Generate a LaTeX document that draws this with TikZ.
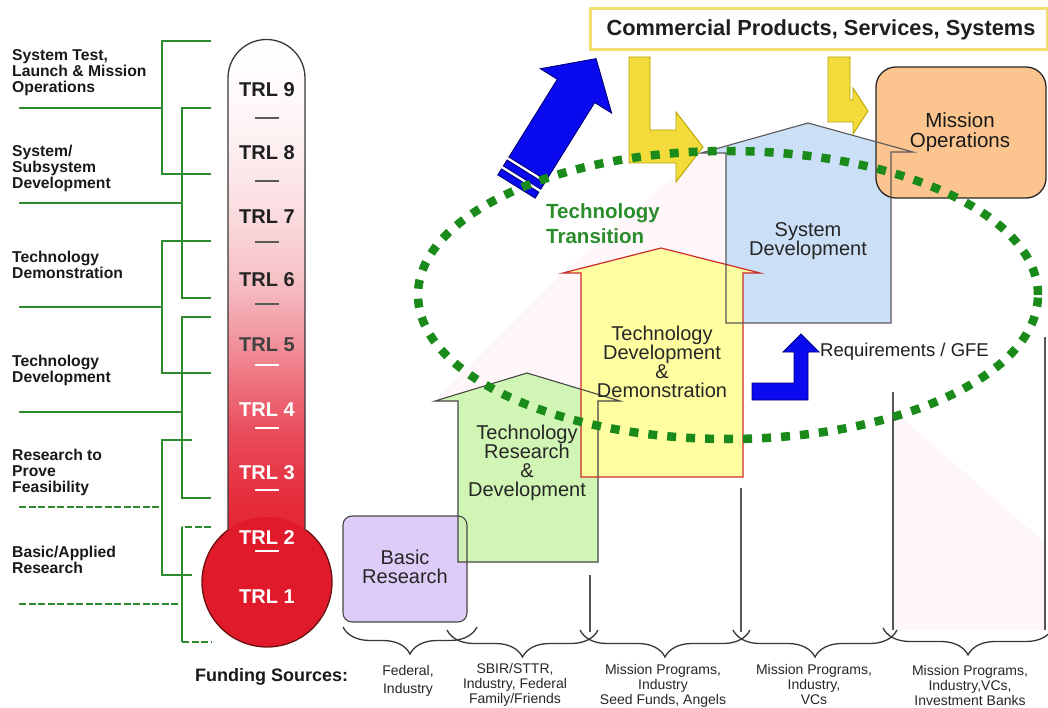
\documentclass[tikz,border=0pt]{standalone}
\usepackage{fontspec}
\setmainfont{Liberation Sans}
\usetikzlibrary{decorations.pathreplacing}

\definecolor{brk}{HTML}{2E8B2E}
\definecolor{dotg}{HTML}{1A8A1A}
\definecolor{ttgreen}{HTML}{2A8C2A}
\definecolor{lav}{HTML}{DCCCF7}
\definecolor{lgreen}{HTML}{CDF5AE}
\definecolor{lyellow}{HTML}{FFFF9C}
\definecolor{redline}{HTML}{CC2B2B}
\definecolor{lblue}{HTML}{CBDFF6}
\definecolor{orng}{HTML}{FCC58F}
\definecolor{gold}{HTML}{F2DB3A}
\definecolor{goldline}{HTML}{B9A300}
\definecolor{boxline}{HTML}{EFE070}
\definecolor{bblue}{HTML}{0A0AEE}
\definecolor{navy}{HTML}{00007A}
\definecolor{pinkfade}{HTML}{FEF6F8}
\definecolor{greyline}{HTML}{555555}
\definecolor{bulbred}{HTML}{E11A2B}
\definecolor{bulbline}{HTML}{6A1010}
\definecolor{tubeA}{HTML}{E31D2C}
\definecolor{tubeB}{HTML}{E6303F}
\definecolor{tubeC}{HTML}{EA4E5D}
\definecolor{tubeD}{HTML}{EE7480}
\definecolor{tubeE}{HTML}{F29CA5}
\definecolor{tubeF}{HTML}{F6C0C5}
\definecolor{tubeG}{HTML}{FADADD}
\definecolor{tubeH}{HTML}{FDEEF0}
\definecolor{tubeI}{HTML}{FFFAFA}

% thermometer tube: red at the bottom fading to white at the top
\pgfdeclareverticalshading{thermotube}{100bp}{%
  color(0bp)=(tubeA); color(25bp)=(tubeA); color(31.7bp)=(tubeB);
  color(37.5bp)=(tubeC); color(42.3bp)=(tubeD); color(47.1bp)=(tubeE);
  color(51.9bp)=(tubeF); color(57.7bp)=(tubeG); color(64.4bp)=(tubeH);
  color(70.1bp)=(tubeI); color(75bp)=(white); color(100bp)=(white)}

\begin{document}
\begin{tikzpicture}[x=1pt,y=-1pt,
  gline/.style={draw=brk, line width=2.7pt},
  gdash/.style={gline, dash pattern=on 7pt off 2.5pt},
  lbl/.style={font=\bfseries\fontsize{15.7}{16}\selectfont, align=left, anchor=west, inner sep=0pt, text=black!90},
  trl/.style={font=\bfseries\fontsize{20}{22}\selectfont, inner sep=0pt},
  trldash/.style={line width=1.2pt},
  boxtext/.style={font=\fontsize{20}{19}\selectfont, align=center, inner sep=0pt, text=black!85},
  fund/.style={font=\fontsize{14}{15}\selectfont, align=center, inner sep=0pt, text=black!85},
  outline/.style={draw=black!72, line width=1.1pt},
  stair/.style={draw=greyline, line width=1.3pt},
  fundbrace/.style={draw=black!78, line width=1.3pt, decorate, decoration={brace, mirror, amplitude=27pt}},
  yarrow/.style={fill=gold, draw=goldline, line width=0.9pt},
  barrow/.style={fill=bblue, draw=navy, line width=0.9pt},
  dots/.style={draw=dotg, line width=8.5pt, dash pattern=on 9pt off 10pt}
]
\useasboundingbox (0,0) rectangle (1048,708);
\fill[white] (0,0) rectangle (1048,708);

% faint shadow wedges behind the stages
\fill[pinkfade] (435,401) -- (563,273) -- (581,273) -- (581,389) -- (527,373) -- cycle;
\fill[pinkfade] (563,273) -- (701,153) -- (726,153) -- (726,264) -- (661,248) -- cycle;
\fill[pinkfade] (893,410) -- (1045,543) -- (1045,630) -- (893,630) -- cycle;

% stair separators and funding braces
\draw[stair] (590,575) -- (590,632);
\draw[stair] (741,488) -- (741,632);
\draw[stair] (893,392) -- (893,630);
\draw[stair] (1045,337) -- (1045,630);
\draw[fundbrace] (343,627) -- (477,627);
\draw[fundbrace] (447,630) -- (598,630);
\draw[fundbrace] (580,630) -- (750,630);
\draw[fundbrace] (733,630) -- (897,630);
\draw[fundbrace] (883,628) -- (1053,628);

% stage shapes
\def\pathBasic{(343,516) rectangle (467,622)}
\def\pathGreen{(458,562) -- (458,401) -- (435,401) -- (527,373) -- (620,401) -- (598,401) -- (598,562) -- cycle}
\def\pathYellow{(581,477) -- (581,273) -- (563,273) -- (661,248) -- (760,273) -- (743,273) -- (743,477) -- cycle}
\def\pathBlue{(726,323) -- (726,153) -- (701,153) -- (808,123) -- (913,152) -- (891,152) -- (891,323) -- cycle}

\fill[lblue] \pathBlue;
\fill[lav, rounded corners=9pt] \pathBasic;
\fill[lgreen, fill opacity=0.92] \pathGreen;
\fill[lyellow, fill opacity=0.93] \pathYellow;

% mission operations box
\draw[fill=orng, draw=black!85, line width=1.3pt, rounded corners=20pt] (876,67) rectangle (1046,198);

\draw[outline, rounded corners=9pt] \pathBasic;
\draw[outline] \pathGreen;
\draw[draw=redline, line width=1.2pt] \pathYellow;
\draw[outline, draw=black!65] \pathBlue;

\node[boxtext] (basic) at (405,567) {Basic\\Research};
\node[boxtext] (trd) at (527,463) {Technology\\Research\\\&\\Development};
\node[boxtext] (tdd) at (662,362) {Technology\\Development\\\&\\Demonstration};
\node[boxtext] (sysdev) at (808,241) {System\\Development};
\node[boxtext, font=\fontsize{20.5}{20}\selectfont, text=black!90] (missops) at (960,132) {Mission\\Operations};

% commercial products box
\draw[draw=boxline, fill=white, line width=3pt] (590,9) rectangle (1047,50);
\node[font=\bfseries\fontsize{21.8}{22}\selectfont, inner sep=0pt, text=black!88] (commercial) at (821,30) {Commercial Products, Services, Systems};

% yellow arrows from the commercial box
\draw[yarrow] (629,57) -- (650,57) -- (650,130) -- (676,130) -- (676,112) -- (703,147) -- (676,182) -- (676,163) -- (629,163) -- cycle;
\draw[yarrow] (828,57) -- (850,57) -- (850,100) -- (853,100) -- (853,88) -- (868,111) -- (853,134) -- (853,122) -- (828,122) -- cycle;

% big blue arrow with banded tail
\begin{scope}[shift={(516.5,186.5)}, rotate=58.1]
  \draw[barrow] (0,-22) rectangle (7,22);
  \draw[barrow] (10.5,-22) rectangle (17.5,22);
  \draw[barrow] (21,-22) -- (112.6,-22) -- (112.6,-42) -- (150.6,0) -- (112.6,42) -- (112.6,22) -- (21,22) -- cycle;
\end{scope}

% requirements arrow
\draw[barrow] (752,383) -- (794,383) -- (794,352) -- (783,352) -- (801,334) -- (819,352) -- (808,352) -- (808,400) -- (752,400) -- cycle;
\node[font=\fontsize{18.5}{20}\selectfont, anchor=west, inner sep=0pt, text=black!88] (req) at (820,352) {Requirements / GFE};

\node[font=\bfseries\fontsize{20.5}{25}\selectfont, text=ttgreen, align=left, anchor=west, inner sep=0pt] (transition) at (546,224) {Technology\\Transition};

% funding labels
\node[font=\bfseries\fontsize{18}{20}\selectfont, anchor=west, inner sep=0pt, text=black!90] (funding) at (195,677) {Funding Sources:};
\node[fund, font=\fontsize{14}{18}\selectfont] (f1) at (408,681) {Federal,\\Industry};
\node[fund] (f2) at (515,685) {SBIR/STTR,\\Industry, Federal\\Family/Friends};
\node[fund] (f3) at (663,686) {Mission Programs,\\Industry\\Seed Funds, Angels};
\node[fund] (f4) at (814,684) {Mission Programs,\\Industry,\\VCs};
\node[fund] (f5) at (970,685) {Mission Programs,\\Industry,VCs,\\Investment Banks};

% thermometer
\shade[shading=thermotube] (228,560) -- (228,78) arc[start angle=180, end angle=0, radius=38.5pt] -- (305,560) -- cycle;
\fill[bulbred] (267,582) circle[radius=65pt];
\draw[draw=black!78, line width=1.3pt] (228,530) -- (228,78) arc[start angle=180, end angle=0, radius=38.5pt] -- (305,530);
\draw[draw=bulbline, line width=1.3pt] (228,530) arc[start angle=126.9, end angle=413.1, radius=65pt];

\node[trl, text=black!88] (t9) at (267,90) {TRL 9};
\node[trl, text=black!88] (t8) at (267,153) {TRL 8};
\node[trl, text=black!88] (t7) at (267,217) {TRL 7};
\node[trl, text=black!85] (t6) at (267,280) {TRL 6};
\node[trl, text=black!75] (t5) at (267,345) {TRL 5};
\node[trl, text=white] (t4) at (267,410) {TRL 4};
\node[trl, text=white] (t3) at (267,473) {TRL 3};
\node[trl, text=white] (t2) at (267,538) {TRL 2};
\node[trl, text=white] (t1) at (267,597) {TRL 1};
\foreach \y in {118,181,242,304} \draw[trldash, draw=black!65] (255,\y) -- (279,\y);
\foreach \y in {365,428,490,551} \draw[trldash, draw=white] (255,\y) -- (279,\y);

% TRL grouping brackets
\draw[gline] (211,41) -- (162,41) -- (162,174) -- (211,174);
\draw[gline] (19,108) -- (162,108);
\draw[gline] (211,108) -- (182,108) -- (182,298) -- (211,298);
\draw[gline] (19,203) -- (182,203);
\draw[gline] (211,241) -- (162,241) -- (162,373) -- (211,373);
\draw[gline] (19,307) -- (162,307);
\draw[gline] (211,317) -- (182,317) -- (182,498) -- (211,498);
\draw[gline] (19,412) -- (182,412);
\draw[gline] (192,440) -- (162,440) -- (162,575) -- (192,575);
\draw[gdash] (19,507) -- (162,507);
\draw[gdash] (211,527) -- (182,527);
\draw[gline] (182,527) -- (182,642);
\draw[gdash] (182,642) -- (211,642);
\draw[gdash] (19,604) -- (182,604);

\node[lbl] (l1) at (12,73) {System Test,\\Launch \& Mission\\Operations};
\node[lbl] (l2) at (12,168) {System/\\Subsystem\\Development};
\node[lbl] (l3) at (12,265) {Technology\\Demonstration};
\node[lbl] (l4) at (12,370) {Technology\\Development};
\node[lbl] (l5) at (12,472) {Research to\\Prove\\Feasibility};
\node[lbl] (l6) at (12,560) {Basic/Applied\\Research};

% technology transition ring
\draw[dots] (728,295) ellipse[x radius=310pt, y radius=144pt];
\end{tikzpicture}
\end{document}
